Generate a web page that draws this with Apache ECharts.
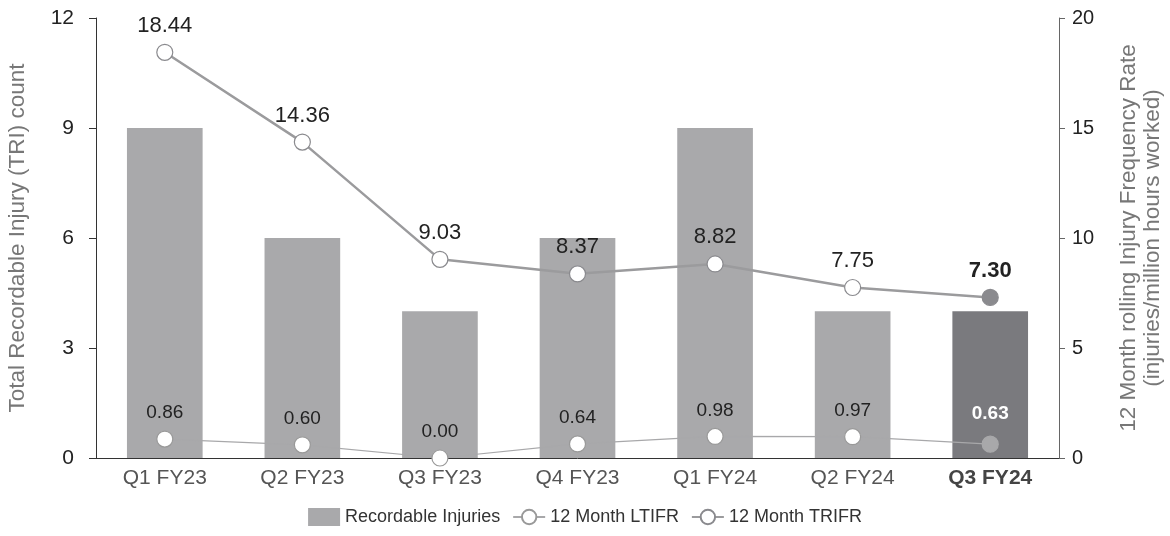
<!DOCTYPE html>
<html>
<head>
<meta charset="utf-8">
<script src="https://cdn.jsdelivr.net/npm/echarts@6/dist/echarts.min.js"></script>
<style>
  html, body { margin: 0; padding: 0; background: #fff; }
  #chart { width: 1170px; height: 536px; }
</style>
</head>
<body>
<div id="chart"></div>
<script>
// quarters
const categories = ['Q1 FY23', 'Q2 FY23', 'Q3 FY23', 'Q4 FY23', 'Q1 FY24', 'Q2 FY24', 'Q3 FY24'];
// TRI count (left axis)
const recordableInjuries = [9, 6, 4, 6, 9, 4, 4];
// rates (right axis)
const ltifr = [0.86, 0.60, 0.00, 0.64, 0.98, 0.97, 0.63];
const trifr = [18.44, 14.36, 9.03, 8.37, 8.82, 7.75, 7.30];

const font = '"Liberation Sans", Arial, sans-serif';
const last = categories.length - 1;

const chart = echarts.init(document.getElementById('chart'));

const barData = recordableInjuries.map((v, i) => i === last
  ? { value: v, itemStyle: { color: '#7a7a7e' } }
  : v);

const trifrData = trifr.map((v, i) => i === last
  ? {
      value: v,
      itemStyle: { color: '#8a8a8e', borderColor: '#8a8a8e' },
      label: { fontWeight: 'bold' }
    }
  : v);

const ltifrData = ltifr.map((v, i) => i === last
  ? {
      value: v,
      itemStyle: { color: '#a8a8aa', borderColor: '#a8a8aa' },
      label: { fontWeight: 'bold', color: '#fff', distance: 12 }
    }
  : v);

chart.setOption({
  animation: false,
  textStyle: { fontFamily: font },
  grid: { left: 96, right: 111, top: 18, bottom: 78, outerBoundsMode: 'none' },
  legend: {
    bottom: 5,
    left: 'center',
    itemGap: 12,
    itemWidth: 32,
    itemHeight: 18,
    textStyle: { fontSize: 18, color: '#333', fontFamily: font },
    data: [
      { name: 'Recordable Injuries', icon: 'rect', itemStyle: { color: '#a9a9ab' } },
      { name: '12 Month LTIFR' },
      { name: '12 Month TRIFR' }
    ]
  },
  xAxis: {
    type: 'category',
    data: categories,
    axisLine: { lineStyle: { color: '#333' } },
    axisTick: { show: false },
    axisLabel: {
      interval: 0,
      fontSize: 21,
      color: '#555',
      margin: 10,
      formatter: (v, i) => i === last ? '{b|' + v + '}' : v,
      rich: { b: { fontSize: 21, fontWeight: 'bold', color: '#444' } }
    }
  },
  yAxis: [
    {
      type: 'value',
      min: 0, max: 12, interval: 3,
      name: 'Total Recordable Injury (TRI) count',
      nameLocation: 'middle',
      nameGap: 67,
      nameTextStyle: { fontSize: 22.5, color: '#777' },
      axisLine: { show: true, lineStyle: { color: '#333' } },
      axisTick: { show: true, length: 7, lineStyle: { color: '#333' } },
      axisLabel: { fontSize: 21, color: '#222', margin: 22 },
      splitLine: { show: false }
    },
    {
      type: 'value',
      min: 0, max: 20, interval: 5,
      name: '12 Month rolling Injury Frequency Rate\n(injuries/million hours worked)',
      nameLocation: 'middle',
      nameGap: 58,
      nameRotate: 90,
      nameTextStyle: { fontSize: 22.5, color: '#777', lineHeight: 24 },
      axisLine: { show: true, lineStyle: { color: '#666' } },
      axisTick: { show: true, length: 6, lineStyle: { color: '#666' } },
      axisLabel: { fontSize: 20, color: '#222', margin: 13 },
      splitLine: { show: false }
    }
  ],
  series: [
    {
      name: 'Recordable Injuries',
      type: 'bar',
      yAxisIndex: 0,
      barWidth: '55%',
      itemStyle: { color: '#a9a9ab' },
      data: barData,
      z: 1
    },
    {
      name: '12 Month LTIFR',
      type: 'line',
      yAxisIndex: 1,
      symbol: 'circle',
      symbolSize: 16,
      lineStyle: { color: '#a8a8aa', width: 1.2 },
      itemStyle: { color: '#fff', borderColor: '#999', borderWidth: 1.2 },
      label: {
        show: true,
        position: 'top',
        distance: 8,
        fontSize: 19,
        color: '#222',
        formatter: p => p.value.toFixed(2)
      },
      data: ltifrData,
      z: 3
    },
    {
      name: '12 Month TRIFR',
      type: 'line',
      yAxisIndex: 1,
      symbol: 'circle',
      symbolSize: 16,
      lineStyle: { color: '#9b9b9d', width: 2.5 },
      itemStyle: { color: '#fff', borderColor: '#8a8a8e', borderWidth: 1.2 },
      label: {
        show: true,
        position: 'top',
        distance: 7,
        fontSize: 22,
        color: '#222',
        formatter: p => p.value.toFixed(2)
      },
      data: trifrData,
      z: 4
    }
  ]
});
</script>
</body>
</html>
